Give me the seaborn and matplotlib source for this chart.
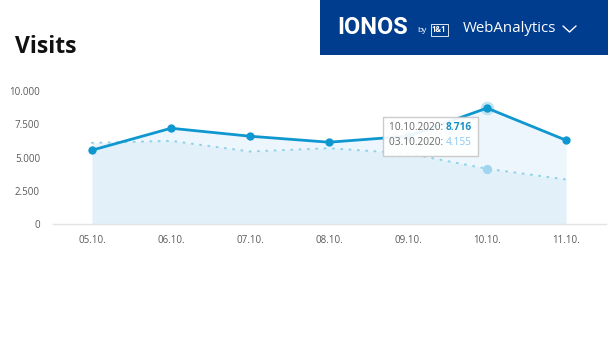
import matplotlib
matplotlib.use("Agg")
import matplotlib.pyplot as plt
import seaborn as sns
import pandas as pd
import numpy as np
from matplotlib.patches import Rectangle, FancyBboxPatch

# ---- data ----
dates = ["05.10.", "06.10.", "07.10.", "08.10.", "09.10.", "10.10.", "11.10."]
visits_current = [5550, 7200, 6600, 6150, 6600, 8716, 6300]
visits_previous = [6100, 6250, 5450, 5700, 5300, 4155, 3350]
yticks = [0, 2500, 5000, 7500, 10000]
ytick_labels = ["0", "2.500", "5.000", "7.500", "10.000"]
tooltip_current = ("10.10.2020: ", "8.716")
tooltip_previous = ("03.10.2020: ", "4.155")

df = pd.DataFrame({"date": dates, "current": visits_current, "previous": visits_previous})
df["idx"] = np.arange(len(df))

sns.set_style("white")
plt.rcParams["font.family"] = ["Open Sans", "DejaVu Sans"]

fig = plt.figure(figsize=(6.08, 3.42), dpi=100)
ax = fig.add_axes([52.5 / 608, 118 / 342, 553 / 608, 133 / 342])

blue = "#0f98cf"
light = "#8fd3ea"

ax.fill_between(df["idx"], df["current"], 0, color="#edf6fc", lw=0, zorder=1)
ax.fill_between(df["idx"], df["previous"], 0, color="#dcedf7", alpha=0.6, lw=0, zorder=1)

sns.lineplot(data=df, x="idx", y="previous", ax=ax, color=light, lw=1.5,
             linestyle=(0, (0.5, 3.5)), dash_capstyle="round", zorder=2)
sns.lineplot(data=df, x="idx", y="current", ax=ax, color=blue, lw=2, marker="o",
             markersize=6, markeredgewidth=0, zorder=4)

# highlighted point halo and previous point
hi = 5
ax.scatter([df["idx"][hi]], [df["current"][hi]], s=95, color="#bfe3f3", zorder=3, lw=0)
ax.scatter([df["idx"][hi]], [df["previous"][hi]], s=45, color="#9fd6ee", zorder=3, lw=0)

ax.set_xlim(-0.5, 6.5)
ax.set_ylim(0, 10000)
ax.set_xticks(df["idx"])
ax.set_xticklabels(dates)
ax.set_yticks(yticks)
ax.set_yticklabels(ytick_labels)
ax.tick_params(axis="both", length=0, labelsize=7, labelcolor="#5a5a5a")
ax.tick_params(axis="x", pad=8)
ax.tick_params(axis="y", pad=9)
ax.set_xlabel("")
ax.set_ylabel("")
for s in ["top", "right", "left"]:
    ax.spines[s].set_visible(False)
ax.spines["bottom"].set_color("#e3e3e3")
ax.spines["bottom"].set_linewidth(1)

# tooltip
box = FancyBboxPatch((3.68, 5100), 1.2, 2950, boxstyle="square,pad=0",
                     facecolor="white", edgecolor="#c8c8c8", lw=1, alpha=0.93, zorder=6)
ax.add_patch(box)
t1 = ax.text(3.76, 7250, tooltip_current[0], fontsize=7.3, color="#666666", va="center", zorder=7)
t2 = ax.text(3.76, 6100, tooltip_previous[0], fontsize=7.3, color="#666666", va="center", zorder=7)
for t, val, col, w in [(t1, tooltip_current[1], "#1b8fc4", "bold"),
                       (t2, tooltip_previous[1], "#8cc7ef", "normal")]:
    ax.annotate(val, xy=(1, 0.5), xycoords=t, va="center", ha="left",
                fontsize=7.3, color=col, fontweight=w, zorder=7)

# title
fig.text(15 / 608, 1 - 47 / 342, "Visits", fontsize=16.5, fontweight="bold",
         color="#111111", va="center", ha="left")

# banner
fig.patches.append(Rectangle((320 / 608, 1 - 55 / 342), 288 / 608, 55 / 342,
                             transform=fig.transFigure, facecolor="#003d8f",
                             edgecolor="none", zorder=0))
fig.text(337 / 608, 1 - 27 / 342, "IONOS", fontsize=17, fontweight="bold",
         family=["Roboto", "DejaVu Sans"], color="white", va="center", ha="left")
fig.text(417 / 608, 1 - 30 / 342, "by", fontsize=6, color="white", va="center", ha="left")
fig.text(432 / 608, 1 - 30 / 342, "1&1", fontsize=5.5, fontweight="bold", color="white",
         va="center", ha="left",
         bbox=dict(boxstyle="square,pad=0.15", facecolor="none", edgecolor="white", lw=0.6))
fig.text(463 / 608, 1 - 29 / 342, "WebAnalytics", fontsize=10.8, color="white",
         va="center", ha="left")
fig.lines.append(plt.Line2D([563 / 608, 569.5 / 608, 576 / 608],
                            [1 - 26 / 342, 1 - 32 / 342, 1 - 26 / 342],
                            transform=fig.transFigure, color="white", lw=1))

fig.savefig("out.png", dpi=100)
